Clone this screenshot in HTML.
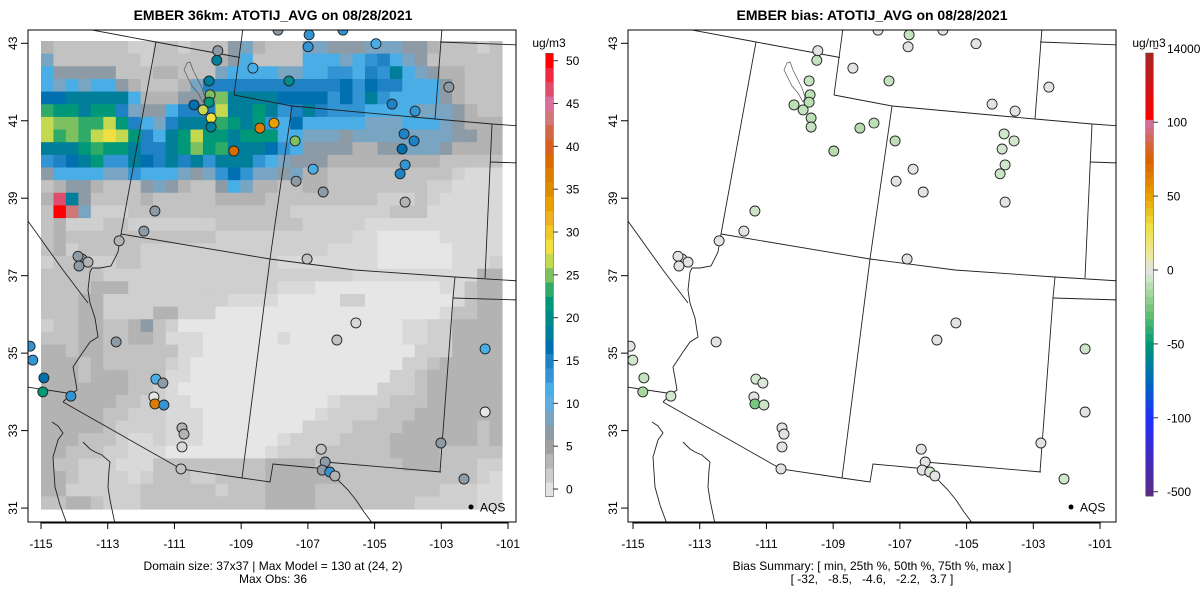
<!DOCTYPE html>
<html><head><meta charset="utf-8"><style>
html,body{margin:0;padding:0;background:#fff;}
svg{display:block;font-family:"Liberation Sans",sans-serif;}
</style></head><body>
<svg id="chart" width="1200" height="600" viewBox="0 0 1200 600" xmlns="http://www.w3.org/2000/svg">
<text x="273" y="20" text-anchor="middle" font-size="14" font-weight="bold">EMBER 36km: ATOTIJ_AVG on 08/28/2021</text>
<text x="872" y="20" text-anchor="middle" font-size="14" font-weight="bold">EMBER bias: ATOTIJ_AVG on 08/28/2021</text>
<text x="273" y="570" text-anchor="middle" font-size="12">Domain size: 37x37 | Max Model = 130 at (24, 2)</text>
<text x="273" y="583" text-anchor="middle" font-size="12">Max Obs: 36</text>
<text x="872" y="570" text-anchor="middle" font-size="12">Bias Summary: [ min, 25th %, 50th %, 75th %, max ]</text>
<text x="872" y="583" text-anchor="middle" font-size="12" xml:space="preserve">[ -32,   -8.5,   -4.6,   -2.2,   3.7 ]</text>
<g id="left"></g>
<g id="right"></g>
<g id="cb1"></g>
<g id="cb2"></g>
</svg>
<script>
// ---- data ----
const gridRows = [
"4333333223"+"3233356433"+"3665556665"+"5433323",
"6333333323"+"3333457333"+"3777678976"+"5333333",
"7555553334"+"4333677776"+"67788798b7"+"6544333",
"7676775433"+"3469999999"+"9999a8a997"+"7754333",
"aabbbbb744"+"4555ebbbba"+"aaa8a8b877"+"7754333",
"dccbcc9655"+"7999fbbcb8"+"9b98887777"+"6665433",
"feeddfc976"+"9bbbdcbc87"+"a777776667"+"7765444",
"fdedfgfc97"+"bcfccbccc7"+"7666566666"+"6665544",
"bbbcdccb99"+"bcecdbbba8"+"7555544556"+"6654444",
"89abc88ba9"+"b9b8bbb876"+"5554444444"+"4433333",
"5777766877"+"76568a8665"+"6443333333"+"3332111",
"3455433356"+"5433576443"+"3443333333"+"3221111",
"4sb5333343"+"3333444433"+"3333333222"+"3211111",
"3rt6222333"+"3333333333"+"2222222233"+"3111111",
"3422233222"+"2222333333"+"3222221111"+"1111111",
"3433333333"+"3333222222"+"2222211000"+"0011111",
"3423333322"+"2222222222"+"2221111000"+"0001111",
"2333223322"+"2222222221"+"1111111000"+"0001112",
"3333322222"+"2222222222"+"2222211111"+"1111144",
"3333444222"+"2222222221"+"1100000000"+"0011344",
"3334422222"+"2222211110"+"0000220000"+"0001344",
"3334422224"+"4222000000"+"0000000000"+"0013344",
"2334433453"+"2000000000"+"0000000001"+"1224444",
"3334433443"+"1110000001"+"0000000001"+"1224444",
"4434433333"+"3110000000"+"0000000000"+"2224444",
"4443433333"+"2100000000"+"0000000002"+"2344444",
"4443444333"+"1100000000"+"0000000022"+"3444444",
"4444444332"+"1000000000"+"0000000222"+"3444444",
"4444443322"+"1100000000"+"0001222233"+"3444444",
"4444433222"+"1110000000"+"0012222333"+"4444444",
"4444432222"+"1110000000"+"0222233334"+"4444434",
"4443332112"+"1110000001"+"2222333344"+"4444434",
"4433322111"+"0000000012"+"2233333344"+"4433333",
"4332221113"+"3333333344"+"4433333334"+"4433322",
"4432222123"+"3322333344"+"4444333333"+"3333321",
"4422222233"+"3333233344"+"4433333333"+"3322211",
"3344322233"+"3333333344"+"4433333333"+"2222211"
];
const codeValue = {"0":0,"1":1.5,"2":2.5,"3":3.5,"4":5,"5":7,"6":8.5,"7":11.5,"8":13,"9":15,"a":16.5,"b":18.5,"c":21,"d":23,"e":25,"f":27,"g":28.5,"t":43.5,"s":46.5,"r":50};
const stLon = [-109.64,-109.67,-107.84,-106.91,-105.90,-106.94,-104.91,-108.59,-109.90,-107.51,-110.35,-109.87,-110.08,-109.90,-109.84,-109.84,-108.38,-107.96,-109.16,-107.33,-102.73,-104.43,-103.74,-104.07,-103.77,-104.13,-104.04,-104.19,-106.79,-107.30,-106.49,-104.04,-111.52,-111.85,-112.59,-106.97,-113.70,-113.82,-113.52,-113.79,-115.25,-115.17,-114.84,-114.87,-114.03,-112.68,-111.49,-111.28,-111.55,-111.52,-111.25,-110.71,-110.65,-110.71,-110.74,-105.51,-106.08,-101.65,-101.65,-102.97,-106.55,-106.43,-106.52,-106.29,-106.14,-102.28];
const stLat = [42.81,42.56,43.34,43.22,43.34,42.91,42.99,42.36,42.03,42.03,41.41,41.67,41.28,41.48,41.07,40.84,40.81,40.94,40.22,40.48,41.87,41.43,41.25,40.66,40.48,40.27,39.86,39.63,39.75,39.44,39.16,38.90,38.67,38.15,37.90,37.43,37.43,37.50,37.35,37.25,35.18,34.82,34.36,34.00,33.89,35.29,34.33,34.23,33.87,33.69,33.66,33.07,32.91,32.58,32.01,35.78,35.34,35.11,33.48,32.68,32.52,32.19,31.98,31.93,31.83,31.75];
const stObs = [7,18,7,13,13,13,12,12,19,20,16,25,27,21,29,19,37,34,38,25,7,15,13,15,15,17,14,15,12,6,7,5,7,6,5,4,7,6,5,6,13,13,17,21,14,7,11,6,0,36,13,5,5,2,4,2,3,12,0,6,3,7,7,13,5,6];
const stBias = [0,-8,0,-8,0,0,0,0,-8,-8,-10,-10,-8,-10,-10,-8,-12,-10,-12,-10,0,0,0,-5,-5,-5,-5,-6,0,0,0,0,-6,0,0,0,0,0,0,0,0,-5,-8,-15,-4,0,-4,-2,0,-25,-6,0,0,0,0,0,0,-6,0,0,0,0,0,-4,0,-5];
const xTicks = [-115,-113,-111,-109,-107,-105,-103,-101];
const yTicks = [31,33,35,37,39,41,43];
const concTicks = [0,5,10,15,20,25,30,35,40,45,50];
const biasTicks = [-500,-100,-50,0,50,100,14000];
const biasTickLabels = ["-500","-100","-50","0","50","100","14000"];

// ---- styles / scales ----
const concBins = ["#e3e3e3","#cdcdcd","#b6b6b6","#a0a0a0","#8d9ba7","#79a5c2","#60aede","#4aaee6","#3394d4","#1e82c4","#0070b0","#007e9a","#008a88","#009878","#30aa68","#7cc060","#c4d850","#f0e040","#f0c828","#ecb020","#e8a000","#e08c00","#dc7c00","#d86c00","#d86020","#d06848","#d07878","#d870a0","#e04c6c","#f02840","#ff0000"];
const grayLevels = [[1,"#e6e6e6"],[2.2,"#d9d9d9"],[3,"#cfcfcf"],[4.3,"#c2c2c2"],[6,"#b3b3b3"]];
function concColor(v){
  if(v<6){for(const g of grayLevels){if(v<g[0])return g[1];}}
  let k=Math.floor((v+0.9)/1.67);k=Math.max(0,Math.min(concBins.length-1,k));return concBins[k];}
function barColor(i){return concBins[i];}
const biasStops=[[-500,"#5a2a8a"],[-100,"#2030ff"],[-75,"#0068b8"],[-50,"#009878"],[-30,"#60c070"],[-15,"#a8d8a0"],[-4,"#d4e8d0"],[0,"#e3e3e3"],[10,"#ece8a0"],[30,"#f0e040"],[50,"#e8a000"],[75,"#d86000"],[100,"#d070a0"],[120,"#ff0000"],[14000,"#a02828"]];
function hx(c){return [1,3,5].map(i=>parseInt(c.substr(i,2),16));}
function biasColor(v){
  if(Math.abs(v)<2) return "#e3e3e3";
  for(let i=0;i<biasStops.length-1;i++){const a=biasStops[i],b=biasStops[i+1];
    if(v<=b[0]){const t=Math.max(0,(v-a[0])/(b[0]-a[0]));const ca=hx(a[1]),cb=hx(b[1]);
      return "rgb("+ca.map((x,j)=>Math.round(x+(cb[j]-x)*t)).join(",")+")";}}
  return biasStops[biasStops.length-1][1];
}
const NS="http://www.w3.org/2000/svg";
function mk(tag,attrs,parent){const e=document.createElementNS(NS,tag);for(const k in attrs)e.setAttribute(k,attrs[k]);parent.appendChild(e);return e;}
const BOX={x0:28,x1:516,y0:30,y1:522};
function sx(lon){return 38.5+(lon+115)*33.45;}
function sy(lat){return 43.3+(43-lat)*38.73;}
function tickX(lon){return 41+(lon+115)*33.36;}

const borders=[
[[60,24],[156,42],[240,57.5]],
[[243,28],[234,95]],
[[234,95],[292,106],[435,119],[492,124],[520,126]],
[[442,28],[435,119]],
[[440,42],[520,45]],
[[492,124],[485,278]],
[[490,162],[520,163]],
[[156,42],[121,234]],
[[121,234],[270,259],[355,270],[455,277],[520,281]],
[[292,106],[270,259],[242,478]],
[[455,277],[453,298],[440,472]],
[[453,298],[520,300]],
[[242,478],[270,482],[273,464],[327,469]],
[[325,462],[441,472]],
[[327,469],[333,474],[340,482],[348,490],[356,500],[364,512],[373,524]],
[[63,402],[181,469],[242,478]],
[[20,386],[67,393]],
[[121,234],[118,252],[111,266],[100,268],[92,268],[90,272],[88,290],[90,303],[95,318],[98,337],[90,342],[83,352],[73,367],[75,378],[77,390],[70,395],[63,402]],
[[20,210],[63,270],[88,303]],
[[52,422],[58,426],[63,433],[58,440],[53,457],[54,472],[55,487],[60,505],[67,524]],
[[83,442],[90,449],[95,452],[102,455],[110,462],[109,470],[108,487],[110,500],[115,524]]
];
const lake=[[187,63],[190,62],[193,70],[198,80],[202,88],[205,97],[203,102],[198,93],[192,86],[189,80],[184,70]];

function drawPanel(g,off,isBias,id,tickOff){
  const clipId="clip"+id;
  const defs=mk("defs",{},g);
  const cp=mk("clipPath",{id:clipId},defs);
  mk("rect",{x:BOX.x0+off,y:BOX.y0,width:BOX.x1-BOX.x0,height:BOX.y1-BOX.y0},cp);
  const inner=mk("g",{"clip-path":"url(#"+clipId+")"},g);
  if(!isBias){
    const cw=(502-41)/37, ch=(509-41)/37;
    gridRows.forEach((row,r)=>{
      for(let c=0;c<37;c++){
        const code=row[c]||row[row.length-1];
        const v=codeValue[code];
        const rc=mk("rect",{x:(41+c*cw+off).toFixed(2),y:(41+r*ch).toFixed(2),width:(cw+0.6).toFixed(2),height:(ch+0.6).toFixed(2),fill:concColor(v)},inner);
        
        
      }
    });
  }
  const bg=mk("g",{fill:"none",stroke:"#222","stroke-width":"0.9"},inner);
  
  
  borders.forEach(b=>{mk("polyline",{points:b.map(p=>(p[0]+off)+","+p[1]).join(" ")},bg);});
  const lk=mk("polygon",{points:lake.map(p=>(p[0]+off)+","+p[1]).join(" "),fill:"none",stroke:"#555","stroke-width":"0.7"},inner);
  
  
  for(let i=0;i<stLon.length;i++){
    const v=isBias?stBias[i]:stObs[i];
    const c=mk("circle",{cx:(sx(stLon[i])+off).toFixed(1),cy:sy(stLat[i]).toFixed(1),r:5,fill:isBias?biasColor(v):concColor(v),stroke:"#222","stroke-width":"0.9"},inner);
    
    
  }
  const lg=mk("g",{},g);
  
  
  mk("circle",{cx:471+off,cy:507,r:2.5,fill:"#000"},lg);
  const lt=mk("text",{x:480+off,y:511.5,"font-size":"12"},lg);lt.textContent="AQS";
  const fr=mk("rect",{x:BOX.x0+off,y:BOX.y0,width:BOX.x1-BOX.x0,height:BOX.y1-BOX.y0,fill:"none",stroke:"#000","stroke-width":"1"},g);
  
  
  const xa=mk("g",{},g);
  
  
  mk("line",{x1:tickX(xTicks[0])+tickOff,x2:tickX(xTicks[xTicks.length-1])+tickOff,y1:BOX.y1+1,y2:BOX.y1+1,stroke:"#000"},xa);
  xTicks.forEach(t=>{const x=tickX(t)+tickOff;
    mk("line",{x1:x,x2:x,y1:BOX.y1,y2:BOX.y1+7,stroke:"#000"},xa);
    const tx=mk("text",{x:x,y:BOX.y1+26,"text-anchor":"middle","font-size":"12"},xa);tx.textContent=t;
    
    });
  const ya=mk("g",{},g);
  
  
  yTicks.forEach(t=>{const y=sy(t);
    mk("line",{x1:BOX.x0+off-7,x2:BOX.x0+off,y1:y,y2:y,stroke:"#000"},ya);
    const tx=mk("text",{x:0,y:0,"text-anchor":"middle","font-size":"12",transform:"translate("+(BOX.x0+off-11)+","+y+") rotate(-90)"},ya);tx.textContent=t;
    
    });
}
drawPanel(document.getElementById("left"),0,false,"L",0);
drawPanel(document.getElementById("right"),600,true,"R",592);

(function(){
  const g=document.getElementById("cb1");
  const top=53.3,bot=496.7,N=concBins.length,h=(bot-top)/N;
  concBins.forEach((c,i)=>{const r=mk("rect",{x:545.7,y:(bot-(i+1)*h).toFixed(2),width:7.6,height:(h+0.4).toFixed(2),fill:barColor(i)},g);
    
    });
  mk("rect",{x:545.7,y:top,width:7.6,height:bot-top,fill:"none",stroke:"#555","stroke-width":"0.6"},g);
  const yv=v=>489-(v)*8.566;
  concTicks.forEach(t=>{mk("line",{x1:553.3,x2:558,y1:yv(t),y2:yv(t),stroke:"#333"},g);
    const tx=mk("text",{x:566,y:yv(t)+4.5,"font-size":"12"},g);tx.textContent=t;
    
    });
  const u=mk("text",{x:549,y:47,"text-anchor":"middle","font-size":"12"},g);u.textContent="ug/m3";
  
  
})();
(function(){
  const g=document.getElementById("cb2");
  const top=53,bot=496,x=1145.7;
  const tY=i=>491.7-i*(491.7-48.3)/6;
  function yToV(y){
    let f=(491.7-y)/((491.7-48.3)/6);
    f=Math.max(0,Math.min(5.999,f));const i=Math.floor(f),t=f-i;
    return biasTicks[i]+(biasTicks[i+1]-biasTicks[i])*t;}
  const N=60,h=(bot-top)/N;
  for(let i=0;i<N;i++){const yc=bot-(i+0.5)*h;
    const r=mk("rect",{x:x,y:(bot-(i+1)*h).toFixed(2),width:7.6,height:(h+0.4).toFixed(2),fill:biasColor(yToV(yc))},g);
    
    }
  mk("rect",{x:x,y:top,width:7.6,height:bot-top,fill:"none",stroke:"#555","stroke-width":"0.6"},g);
  biasTicks.forEach((t,i)=>{const y=tY(i);
    mk("line",{x1:1153.3,x2:1158,y1:y,y2:y,stroke:"#333"},g);
    const tx=mk("text",{x:1167,y:y+4.5,"font-size":"12"},g);tx.textContent=biasTickLabels[i];
    
    });
  const u=mk("text",{x:1149,y:47,"text-anchor":"middle","font-size":"12"},g);u.textContent="ug/m3";
  
  
})();
</script>
</body></html>
